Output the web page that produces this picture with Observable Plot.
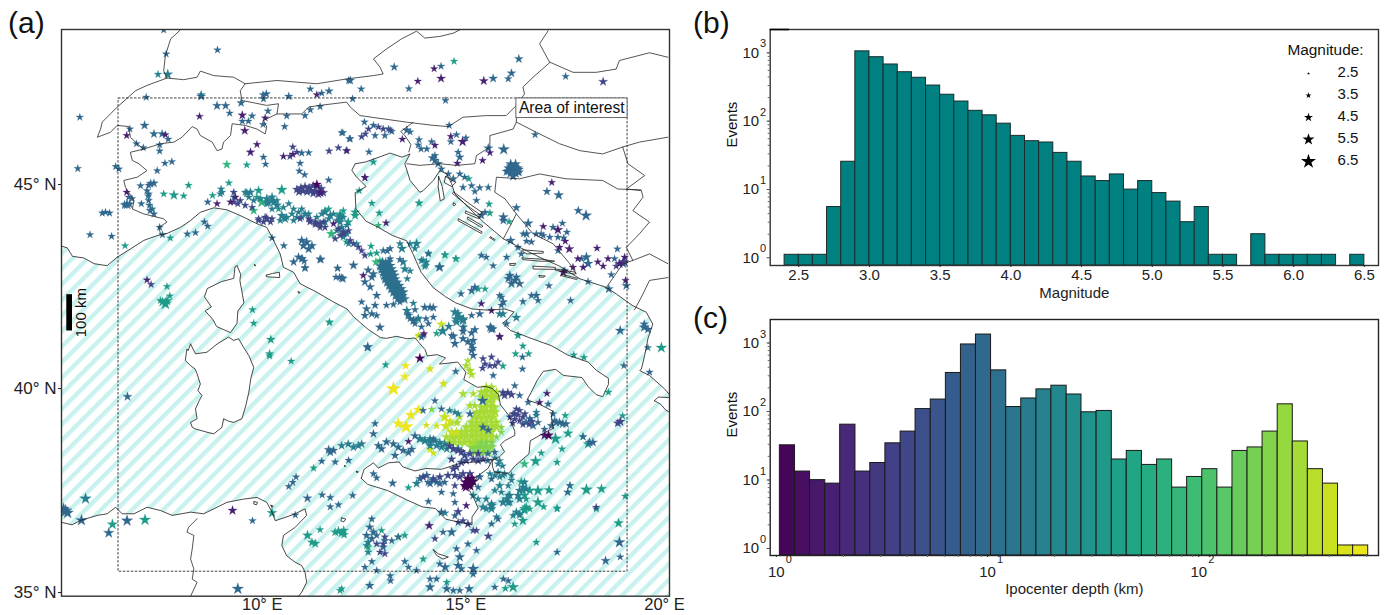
<!DOCTYPE html>
<html><head><meta charset="utf-8">
<script src="https://cdn.jsdelivr.net/npm/d3@7"></script>
<script src="https://cdn.jsdelivr.net/npm/@observablehq/plot@0.6"></script>
<style>
html,body{margin:0;padding:0;background:#fff;}
#page{position:relative;width:1392px;height:615px;overflow:hidden;font-family:"Liberation Sans",Arial,sans-serif;}
#page>svg,#page>div.p{position:absolute;}
.tag{position:absolute;font-size:30px;line-height:30px;color:#111;}
</style></head><body><div id="page"></div>
<script>
// ---------- histogram (b) ----------
const magBins=[2.4,2.5,2.6,2.7,2.8,2.9,3.0,3.1,3.2,3.3,3.4,3.5,3.6,3.7,3.8,3.9,4.0,4.1,4.2,4.3,4.4,4.5,4.6,4.7,4.8,4.9,5.0,5.1,5.2,5.3,5.4,5.5,5.6,5.7,5.8,5.9,6.0,6.1,6.2,6.3,6.4];
const magCounts=[1,1,1,5,23,950,780,610,470,390,300,220,175,128,110,83,55,46,44,31,23,14,12,15,9,12,8,6,3,5,1,1,0,2,1,1,1,1,1,0,1];
const magTicks=[2.5,3,3.5,4,4.5,5,5.5,6,6.5];
// ---------- histogram (c) ----------
const depthEdges=[1,1.18,1.39,1.64,1.93,2.28,2.68,3.16,3.73,4.39,5.18,6.11,7.2,8.48,10,11.8,13.9,16.4,19.3,22.8,26.8,31.6,37.3,43.9,51.8,61.1,72,84.8,100,117.9,139,163.8,193,227.6,268.3,316.2,372.8,439.4,518,610.5];
const depthCounts=[29,12,9,8,58,12,16,31,46,98,135,330,860,1200,360,105,140,190,215,160,88,92,18,24,15,18,7,10,13,7,24,27,46,115,33,13,8,1,1];
const decades=[1,10,100,1000];
const minorY=[2,3,4,5,6,7,8,9,20,30,40,50,60,70,80,90,200,300,400,500,600,700,800,900];
const minorX=[2,3,4,5,6,7,8,9,20,30,40,50,60,70,80,90,200,300,400,500,600];
const legendMags=[2.5,3.5,4.5,5.5,6.5];
// ---------- coast lines and borders (lon, lat) ----------
const coastWest=[[5.07,43.49],[5.21,43.45],[5.34,43.24],[5.62,43.20],[5.87,43.06],[6.19,43.01],[6.44,43.22],[6.76,43.42],[7.09,43.63],[7.42,43.75],[7.66,43.80],[7.99,43.95],[8.24,44.12],[8.48,44.32],[8.81,44.43],[9.13,44.38],[9.46,44.24],[9.87,44.04],[10.11,43.95],[10.24,43.71],[10.44,43.30],[10.52,42.97],[10.77,42.85],[10.93,42.57],[11.34,42.36],[11.75,42.12],[12.08,41.95]];
const coastItaly=[[12.25,41.75],[12.6,41.45],[12.9,41.25],[13.05,41.23],[13.3,41.28],[13.55,41.22],[13.75,41.24],[14.0,40.95],[14.05,40.8],[14.3,40.83],[14.5,40.75],[14.35,40.6],[14.55,40.62],[14.8,40.65],[15.0,40.4],[14.95,40.22],[15.28,40.03],[15.5,40.05],[15.65,40.0],[15.8,39.85],[15.85,39.6],[16.05,39.35],[16.2,38.95],[16.2,38.85],[15.95,38.72],[15.85,38.62],[15.95,38.45],[15.8,38.3],[15.65,38.25],[15.65,38.1],[15.7,37.95],[16.05,37.92],[16.2,38.1],[16.55,38.4],[16.58,38.72],[16.9,38.9],[17.15,39.03],[17.1,39.3],[17.13,39.45],[16.8,39.62],[16.5,39.72],[16.6,39.9],[16.75,40.2],[16.9,40.42],[17.2,40.47],[17.4,40.32],[17.85,40.27],[18.0,40.05],[18.2,39.85],[18.36,39.8],[18.5,40.1],[18.5,40.25],[18.2,40.45],[18.0,40.65],[17.5,40.82],[17.1,41.05],[16.6,41.23],[16.1,41.42],[15.9,41.6],[16.05,41.72],[16.18,41.88],[15.95,41.95],[15.55,41.92],[15.15,41.95],[14.75,42.1],[14.5,42.25],[14.2,42.47],[13.9,42.85],[13.7,43.3],[13.55,43.62],[13.2,43.75],[12.85,43.95],[12.55,44.1],[12.3,44.4],[12.28,44.8],[12.55,44.95],[12.3,45.2],[12.2,45.35],[12.28,45.51],[12.53,45.55]];
const coastBalkan=[[13.14,45.77],[13.43,45.67],[13.63,45.75],[13.50,45.51],[13.63,45.10],[13.87,44.81],[13.95,44.85],[14.20,45.10],[14.36,45.34],[14.53,45.26],[14.65,45.02],[14.73,44.77],[15.06,44.44],[15.43,44.08],[15.92,43.67],[16.32,43.46],[16.81,43.22],[17.30,43.0],[17.80,42.69],[18.45,42.48],[18.69,42.32],[18.97,42.12],[19.10,42.03],[19.43,41.87],[19.59,41.58],[19.47,41.22],[19.39,40.81],[19.31,40.48],[19.27,40.44],[19.51,40.32],[19.88,39.99],[20,39.85]];
const mainlandClose=[[20,48.8],[5.07,48.8]];
const africaCoast=[[5.07,36.72],[5.33,36.66],[5.54,36.77],[5.95,36.89],[6.19,36.93],[6.40,37.09],[6.56,36.93],[6.85,36.93],[7.17,37.09],[7.50,37.01],[7.79,36.89],[8.24,36.97],[8.56,36.93],[8.89,37.09],[9.13,37.21],[9.54,37.29],[9.87,37.33],[10.11,37.21],[10.24,36.97],[10.32,36.76],[10.56,36.84],[10.81,36.93],[11.05,37.05],[11.09,36.89],[10.81,36.60],[10.52,36.40],[10.48,36.15],[10.60,35.90],[10.81,35.74],[10.97,35.66],[11.05,35.50],[11.09,35.25],[10.97,35.01],[10.89,34.91],[5.07,34.91]];
const sardinia=[[8.24,41.09],[8.18,40.93],[8.15,40.97],[8.11,40.69],[8.24,40.56],[8.35,40.48],[8.40,40.36],[8.48,40.11],[8.42,39.95],[8.52,39.83],[8.45,39.7],[8.36,39.50],[8.40,39.26],[8.24,39.17],[8.28,39.05],[8.36,39.01],[8.64,38.93],[8.81,38.89],[9.01,39.05],[9.05,39.26],[9.17,39.2],[9.30,39.17],[9.50,39.26],[9.6,39.6],[9.67,39.91],[9.72,40.25],[9.79,40.52],[9.67,40.81],[9.54,41.01],[9.42,41.22],[9.3,41.18],[9.17,41.26],[8.89,41.09],[8.64,40.89],[8.36,40.85]];
const corsica=[[9.38,43.01],[9.47,42.8],[9.45,42.65],[9.55,42.1],[9.4,41.9],[9.38,41.6],[9.22,41.37],[8.88,41.52],[8.78,41.7],[8.6,41.9],[8.75,42.0],[8.58,42.25],[8.65,42.45],[9.0,42.62],[9.3,42.7],[9.33,42.98]];
const sicily=[[12.43,37.8],[12.5,38.02],[12.73,38.18],[12.85,38.05],[13.1,38.18],[13.36,38.2],[13.45,38.08],[13.75,37.98],[14.02,38.04],[14.4,38.02],[14.9,38.18],[15.24,38.2],[15.35,38.22],[15.65,38.27],[15.55,38.05],[15.29,37.85],[15.2,37.7],[15.09,37.5],[15.2,37.3],[15.3,37.07],[15.15,36.85],[15.15,36.66],[14.85,36.72],[14.5,36.8],[14.25,37.06],[13.93,37.1],[13.55,37.27],[13.08,37.5],[12.59,37.65]];
const isles=[
[[14.33,45.2],[14.42,44.95],[14.47,44.65],[14.37,44.6],[14.32,44.95]],
[[14.5,45.2],[14.75,45.05],[14.65,44.95],[14.47,45.05]],
[[14.7,44.82],[15.1,44.52],[15.42,44.3],[15.35,44.26],[15.05,44.47],[14.67,44.78]],
[[15.0,44.35],[15.35,44.2],[15.3,44.17],[14.98,44.3]],
[[14.82,44.16],[15.4,43.84],[15.38,43.8],[14.8,44.12]],
[[15.05,44.2],[15.42,43.98],[15.38,43.95],[15.03,44.16]],
[[15.6,43.72],[15.72,43.65],[15.7,43.63],[15.58,43.7]],
[[14.7,44.55],[14.75,44.52],[14.72,44.48],[14.68,44.5]],
[[16.4,43.4],[16.9,43.36],[16.9,43.32],[16.5,43.3],[16.4,43.35]],
[[16.38,43.2],[16.85,43.17],[17.18,43.12],[16.85,43.12],[16.4,43.16]],
[[16.65,43.0],[17.2,42.97],[17.18,42.92],[16.65,42.93]],
[[17.2,42.93],[17.7,42.85],[17.68,42.8],[17.2,42.9]],
[[17.35,42.8],[17.75,42.7],[17.72,42.67],[17.33,42.77]],
[[16.08,43.06],[16.22,43.07],[16.2,43.02],[16.08,43.02]],
[[16.8,42.77],[16.95,42.76],[16.92,42.73],[16.8,42.73]],
[[10.1,42.78],[10.25,42.82],[10.42,42.85],[10.43,42.72],[10.25,42.73],[10.1,42.74]],
[[9.81,43.04],[9.84,43.02],[9.82,43.0]],
[[10.88,42.37],[10.93,42.36],[10.9,42.33]],
[[11.95,36.83],[12.05,36.8],[12.0,36.73],[11.93,36.76]],
[[14.2,36.05],[14.32,35.95],[14.57,35.87],[14.44,35.82],[14.28,35.91]],
[[12.31,37.97],[12.36,37.96],[12.33,37.93]],
[[9.8,37.23],[9.88,37.21],[9.86,37.15],[9.79,37.17]],
[[10.21,37.14],[10.27,37.12],[10.24,37.08]],
[[19.63,39.7],[19.72,39.79],[20,39.78],[20,39.42],[19.9,39.48],[19.78,39.62]],
[[12.02,38.11],[12.05,38.1],[12.03,38.08]],
[[14.93,38.5],[14.97,38.48],[14.94,38.45]]
];
const borders=[
[[7.99,48.79],[7.75,48.57],[7.62,48.16],[7.58,47.79],[7.66,47.61],[8.07,47.57],[8.40,47.63],[8.48,47.78],[8.81,47.67],[9.30,47.63],[9.58,47.47],[10.36,47.55],[10.85,47.51],[11.34,47.47],[12.08,47.59],[12.73,47.67],[12.97,47.71],[12.89,47.88],[12.73,48.08],[13.06,48.33],[13.42,48.57],[13.79,48.76],[13.99,48.59],[14.36,48.63],[14.69,48.71],[14.85,48.79]],
[[7.66,47.61],[7.17,47.43],[6.89,47.30],[6.44,46.90],[6.07,46.53],[6.03,46.36],[5.95,46.16],[6.27,46.28],[6.44,46.45],[6.72,46.42],[6.76,46.16],[6.93,46.0],[7.09,45.87],[7.50,46.0],[7.83,46.04],[8.03,46.16],[8.28,46.42],[8.40,46.36],[8.48,46.20],[8.77,46.04],[8.89,45.83],[9.01,45.87],[9.05,46.04],[9.22,46.20],[9.26,46.49],[9.58,46.45],[9.87,46.36],[10.07,46.24],[10.11,46.41],[10.03,46.57],[10.36,46.73],[10.97,46.73],[11.14,46.9],[11.42,46.94],[12.07,47.02],[12.16,46.9],[12.4,46.69],[13.54,46.53],[14.2,46.45],[14.57,46.42],[14.93,46.65],[15.5,46.69],[15.99,46.69],[16.24,46.94],[16.44,47.22],[16.4,47.39],[16.65,47.63],[17.06,47.99],[16.81,48.45],[17.02,48.77]],
[[9.58,47.47],[9.46,47.30],[9.50,47.06],[10.11,46.94],[10.4,46.98],[10.36,46.73]],
[[7.09,45.87],[6.76,45.79],[6.81,45.59],[6.97,45.51],[7.17,45.34],[6.93,45.18],[6.60,45.10],[6.64,44.93],[6.85,44.61],[6.81,44.40],[7.09,44.28],[7.58,44.16],[7.66,44.08],[7.46,43.95],[7.50,43.79]],
[[13.7,46.52],[13.4,46.3],[13.5,46.2],[13.65,45.98],[13.6,45.8]],
[[17.06,48.0],[17.63,47.75],[18.2,47.75],[18.69,47.83],[18.77,48.04],[19.51,48.23],[19.96,48.12]],
[[16.24,46.94],[16.24,46.53],[16.73,46.28],[17.3,46.0],[17.8,45.83],[18.36,45.75],[18.85,45.92],[19.26,46.04],[19.96,46.16]],
[[13.55,45.51],[13.87,45.47],[14.36,45.51],[14.77,45.47],[15.22,45.51],[15.26,45.71],[15.59,45.92],[15.59,46.2],[16.16,46.36],[16.24,46.53]],
[[15.92,43.67],[16.24,44.28],[15.96,44.65],[15.71,44.81],[15.75,45.18],[16.32,45.14],[16.81,45.26],[17.46,45.14],[18.36,45.1],[18.73,44.89],[19.3,44.87]],
[[16.24,44.28],[16.65,43.79],[17.14,43.55],[17.55,43.06],[17.71,42.81]],
[[18.85,45.92],[18.98,45.51],[19.39,45.22],[18.94,44.89],[19.31,44.85],[19.35,44.69],[19.10,44.36],[19.51,44.08],[19.26,43.79],[18.94,43.46],[19.1,43.14],[18.85,43.05],[18.45,42.48]],
[[19.1,43.14],[19.51,43.3],[19.96,43.06]],
[[19.96,42.72],[19.51,42.65],[19.31,42.24],[19.14,41.93]],
[[8.40,36.81],[8.19,36.60],[8.15,36.48],[8.32,36.40],[8.28,36.07],[8.24,35.82],[8.32,35.58],[8.28,35.33],[8.40,35.25],[8.24,34.91]]
];
// ---------- events: [lon, lat, magnitude] grouped by depth class ----------
const defaultMag=3.2;
const depthClasses={dark:1.1,purple:1.8,indigo:4,blue:9,core:11,tealBlue:16,teal:36,seaGreen:75,green:200,lime:300,yellowGreen:420,yellow:600};
const dark=[[15.1,37.7,4.6],[15.0,37.7,4.4],[15.18,37.72,4.2],[15.1,37.62,4.4],[15.05,37.78,4.4],[15.15,37.8,4],[14.97,37.62,4],[15.0,37.58,4],[13.87,40.74,4],[17.03,38.85,4],[11.34,45.0,3.8]];
const purple=[[9.27,37.01,3.8],[8.46,46.67],[9.51,46.7,3.6],[9.57,46.32,3.6],[10.07,46.63],[11.34,47.2],[6.67,46.2],[7.62,46.22],[9.87,45.98],[9.71,45.79,3.6],[10.52,45.69],[10.75,45.74],[12.08,45.83],[6.67,44.81],[9.22,44.57],[9.34,44.69],[8.89,44.53],[11.43,44.8,3.8],[7.17,42.66],[14.22,47.84],[14.39,47.6,3.7],[13.82,47.53],[15.44,47.54,3.7],[13.44,46.11],[14.24,45.96],[14.63,46.18],[14.92,46.05,4],[15.59,45.78],[15.41,45.59],[14.79,45.52],[12.52,45.17],[16.9,43.97],[17.26,43.89,4],[17.44,43.61],[17.3,43.46],[17.54,43.42,3.8],[17.75,43.18],[17.88,42.97],[17.63,42.97],[17.39,42.85,3.8],[18.22,43.44],[18.24,43.1],[18.49,43.18],[18.37,43.0],[18.9,43.22],[18.77,43.06,3.8],[18.92,42.65],[17.11,45.05],[12.48,42.77],[13.04,44.06],[15.38,42.08],[15.63,41.91],[15.83,41.28],[13.97,41.34],[15.83,41.26],[13.59,38.7],[16.81,39.66],[16.99,39.88],[15.01,37.13],[14.1,36.64,3.7],[11.75,44.04],[16.93,38.85,3.8],[12.52,45.17]];
const indigo=[[18.37,47.52,3.7],[10.85,44.88,3.6],[10.95,44.92,3.6],[11.05,44.95,3.6],[11.15,44.92,3.6],[11.25,44.97,3.6],[11.35,44.95,3.6],[11.45,44.9,3.6],[10.9,44.82,3.6],[11.0,44.84,3.6],[11.1,44.82,3.6],[11.2,44.85,3.6],[11.3,44.84,3.6],[11.4,44.82,3.6],[11.5,44.8,3.6],[11.25,44.78,3.6],[11.38,44.76,3.6],[10.11,44.16,4],[9.91,44.16],[10.24,44.16],[10.03,44.08],[11.14,44.16],[11.3,44.08,3.6],[11.42,44.04,3.6],[11.17,44.08],[11.34,44.04],[11.5,44.08],[11.87,43.91],[11.99,43.83,3.6],[12.12,43.87],[9.3,44.81],[9.4,44.53],[9.46,44.61],[9.3,44.57],[9.58,44.49],[9.75,44.44],[10.68,45.69],[10.85,45.79],[10.75,45.92],[11.87,45.9],[11.64,45.82],[7.27,42.55],[12.44,46.17],[12.53,46.24],[12.61,46.36],[12.85,46.41],[13.14,46.33],[12.97,46.36],[11.79,43.67],[11.91,43.75],[11.99,43.79],[12.24,43.55],[12.36,43.47],[12.44,43.38],[12.52,43.26],[12.16,43.63],[15.91,39.9,3.6],[16.03,39.9,3.6],[16.12,39.85,3.6],[15.95,39.83,3.6],[14.6,38.6,3.6],[14.69,38.52,3.6],[14.81,38.48,3.6],[14.89,38.44,3.6],[14.97,38.36,3.6],[15.1,38.4,3.6],[15.18,38.27,3.6],[14.65,38.27,3.6],[14.77,38.07,3.6],[14.89,38.19,3.6],[15.01,38.23,3.6],[15.3,38.23,3.6],[15.42,38.27,3.6],[15.3,38.4,3.6],[14.69,38.03,3.6],[14.73,37.87,3.6],[14.85,37.83,3.6],[14.93,37.91,3.6],[15.1,37.91,3.6],[14.36,37.83,3.6],[14.2,37.79,3.6],[13.95,37.83,3.6],[14.56,37.87,3.6],[14.73,37.62],[14.81,36.98,3.7],[15.05,36.68,3.6],[14.93,36.76],[14.81,36.72],[18.79,39.19,4],[18.73,39.15,3.7],[18.9,43.1,3.6],[18.86,43.1,3.6],[18.69,43.0],[14.24,36.32],[15.18,36.52],[15.26,36.52],[15.55,36.38,3.7],[12.81,36.19],[12.97,36.19],[13.01,36.36],[12.89,35.99],[13.01,35.95],[18.2,37.09],[15.63,40.77],[15.42,40.73],[15.47,40.6],[15.59,40.56],[15.71,40.56],[15.79,40.65],[15.41,40.5],[16.2,39.38],[16.24,39.5],[16.16,39.38],[16.32,39.46],[16.4,39.3],[16.32,39.21],[16.08,39.3],[16.2,39.25],[16.28,39.35],[16.4,39.12],[16.55,39.12],[16.62,39.2],[16.45,39.38],[16.15,39.15],[11.18,44.12],[11.3,44.02],[11.42,43.95],[11.54,43.95],[10.93,44.16],[10.07,44.2],[10.2,44.08],[9.91,44.12]];
const blue=[[7.58,48.79],[7.64,48.2],[8.9,48.3],[8.5,47.16,3.7],[7.15,47.14],[5.52,46.65],[8.89,46.93,3.7],[9.1,46.93,3.6],[9.2,46.75],[9.48,47.0,3.5],[9.51,46.55],[9.66,46.55],[9.75,46.68],[10.14,46.8],[10.02,46.47],[10.6,46.68],[10.55,46.42],[11.05,46.69],[11.18,46.83],[11.42,46.91],[11.18,47.34],[11.46,47.24],[11.64,47.29,3.5],[10.02,47.2],[10.1,47.22,3.5],[10.03,47.1],[10.65,47.16,3.5],[12.12,47.55],[6.75,46.36],[7.11,46.45,3.7],[7.34,46.24,3.6],[7.54,46.24,3.5],[7.69,46.11],[6.91,46.0],[7.08,45.9],[7.48,45.97],[7.48,45.82],[7.61,45.52],[7.78,45.56],[7.42,45.34],[5.47,45.39],[6.4,45.44],[6.48,45.38],[7.01,44.97],[7.21,44.98],[7.34,45.03,3.6],[7.26,45.02,3.6],[7.17,44.85],[7.21,44.77],[6.72,44.69],[6.68,44.51,4.2],[6.62,44.5,3.6],[6.74,44.52,3.6],[6.8,44.65],[7.03,44.53],[7.21,44.61],[7.23,44.49],[7.25,44.36,3.5],[7.34,44.28],[6.07,44.3],[6.15,44.32],[6.25,44.3],[5.77,43.77],[6.3,43.73],[7.48,43.95],[7.55,43.77],[8.16,43.79],[8.36,43.82],[8.58,44.08],[8.66,43.98],[10.08,45.5],[10.03,45.67],[10.97,45.77],[11.14,45.78],[10.93,45.52],[10.91,45.33],[11.04,45.24],[11.63,45.11],[11.98,46.27],[12.14,46.12],[8.66,44.57],[11.09,43.59,4],[10.97,43.63,3.8],[11.22,43.5,3.8],[11.14,43.42,3.8],[11.01,43.5,3.8],[10.89,43.22,3.6],[10.97,43.18,3.6],[10.77,43.1,3.6],[11.03,43.12],[11.42,43.17,3.6],[11.05,42.96],[11.85,42.95],[11.9,42.73],[11.98,42.69,3.6],[10.24,43.69],[10.53,43.5],[6.69,39.8,3.7],[5.17,37.0,5],[5.12,37.05,4.6],[5.22,36.95,4.6],[5.56,36.77,4.5],[6.23,36.46,4.2],[6.68,36.76,4.5],[9.76,36.76],[10.81,36.9],[9.4,35.09,4.6],[11.63,38.5,3.7],[11.67,38.44,3.7],[11.75,38.48,3.6],[11.46,38.22],[11.79,38.2],[10.83,37.83],[10.75,37.7],[10.65,37.6],[11.11,37.31,3.7],[11.47,37.39],[11.67,37.33],[11.67,37.1],[11.87,37.15],
[13.24,47.88,3.5],[14.39,47.9],[13.6,47.35],[12.16,47.55,3.6],[12.43,47.34],[12.22,47.1],[14.5,47.06],[15.67,47.6,3.7],[16.04,47.59],[16.12,47.73,3.6],[16.3,48.08,3.6],[17.45,47.65],[16.7,46.22],[14.59,46.45],[12.51,46.53],[12.73,46.45],[13.1,46.36],[13.18,46.3],[12.77,46.2],[13.01,46.2],[13.55,46.33,3.6],[13.63,46.29],[13.85,46.1],[13.83,45.97],[13.9,45.87],[14.04,45.87],[14.16,46.05],[14.77,46.22],[14.63,46.05],[15.0,46.14],[15.55,45.89,3.8],[15.93,45.86,4.5],[16.16,45.38,4.2],[16.05,45.4,4],[16.27,45.4,4],[16.1,45.5,4],[16.22,45.5,4],[16.1,45.28,4],[16.22,45.28,4],[16.0,45.32,3.8],[16.3,45.3,3.8],[16.16,45.2,3.8],[16.1,45.45,3.8],[16.2,45.43,3.8],[16.05,45.33,3.8],[16.25,45.33,3.8],[16.15,45.3,3.8],[16.3,45.37,3.8],[14.24,45.71],[14.24,45.59,3.6],[14.32,45.51,3.6],[14.18,45.65,3.6],[14.81,45.79],[14.85,45.67,3.5],[14.4,45.38],[14.57,45.26],[14.69,45.14,3.6],[14.85,45.26],[14.97,45.18],[15.14,44.97],[14.93,44.93],[15.34,44.92],[15.22,44.83],[15.55,44.93],[15.26,44.61],[11.95,46.27],[12.16,46.12],[12.06,45.83],[12.62,45.8],[15.47,44.32],[15.38,44.24,3.6],[15.92,44.2,3.9],[15.92,44.12,3.6],[16.24,44.43,3.6],[16.53,44.05,4],[16.41,43.79],[16.49,43.79,3.7],[17.14,43.95],[17.37,44.05],[17.48,43.83],[16.73,43.79],[16.9,43.75],[16.61,43.59],[17.06,43.71],[17.26,43.71],[17.4,43.69],[17.26,43.38],[16.1,43.63,3.8],[16.49,43.61],[16.28,43.46],[16.85,43.79],[16.36,43.3],[17.76,44.36,3.6],[17.95,44.24,4.5],[16.99,44.83,3.5],[17.28,44.74,4],[17.84,43.18],[17.96,43.22,4],[18.0,43.06,4],[17.43,42.89],[18.72,43.42],[18.65,43.18],[18.86,43.06,3.8],[18.57,42.79],[18.51,42.44,3.7],[18.94,42.52,3.7],[18.0,42.62],
[15.38,43.26],[15.5,43.22],[16.0,43.22],[15.67,43.01],[14.35,42.97,4],[14.08,43.3],[15.22,42.48,3.6],[15.14,42.4,3.6],[14.88,42.32],[16.08,42.77,3.8],[16.2,42.65,3.8],[16.12,42.57,3.8],[16.32,42.57,3.8],[16.24,42.73,3.6],[16.04,42.69,3.6],[16.73,42.28,3.6],[16.61,42.28],[16.77,42.16],[17.04,42.52],[17.57,42.16],[16.4,42.13],[15.83,42.28],[15.92,42.12,3.6],
[12.6,42.9,3.6],[12.69,42.73,3.6],[12.52,42.61,3.6],[12.65,42.49,3.6],[12.73,42.81,3.6],[12.81,42.28,3.6],[11.85,42.95],[12.24,43.02,3.8],[11.44,43.16,3.5],[11.81,42.73],[11.95,42.71,3.6],[11.05,42.95,3.5],[10.99,43.18],[13.14,43.43],[12.97,43.38],[13.07,43.37],[13.14,43.18],[13.38,43.16],
[12.44,42.12],[12.56,41.95,3.6],[12.77,42.04,3.5],[12.69,41.83,3.5],[12.52,41.79,3.5],[12.81,41.79],[13.05,42.04],[13.22,42.06],[13.38,42.12],[12.89,41.5,3.7],[12.59,41.02,4],[13.75,41.93],[13.58,41.83],[13.63,41.71],[13.71,41.67],[13.99,41.99,3.6],[14.12,41.99,3.6],[14.2,41.98,3.6],[13.75,41.59],[13.91,41.51],[14.2,41.75],[14.08,41.59],[14.02,41.71],[13.91,41.26],[15.14,41.79],[15.34,41.83,3.6],[15.87,42.24],[15.87,42.04],[16.0,41.59],[15.6,41.5,4],[15.67,41.46],[14.65,41.3],[14.73,41.1,3.8],[14.93,41.22,3.7],[15.18,41.18,3.6],[15.14,40.93,3.6],[15.18,40.81,3.6],[15.63,41.46,4],[18.79,41.42,4],[19.38,41.5,4],[19.47,41.45,3.6],[19.38,41.58,3.6],[18.88,40.56],[19.51,40.4],[16.39,40.77],[16.39,40.48],[15.67,40.32],[14.75,40.42],[14.69,41.28,3.8],[14.93,41.4,3.6],[15.14,41.36,3.6],[15.22,41.44,3.6],[15.05,41.15,3.6],[15.14,41.07,3.6],[15.18,40.99],[14.93,41.5],[13.95,41.3],[12.58,41.0],
[15.41,39.7,4.2],[15.1,39.38,3.6],[15.42,39.05,3.6],[15.55,38.98,3.5],[15.71,38.44],[15.54,38.4],[15.54,38.23],[15.63,37.78],[15.3,37.58],[15.34,37.83],[14.07,37.7],[14.28,37.7],[14.48,37.7],[13.87,37.79,3.6],[14.04,37.87,3.6],[14.2,37.75,3.6],[14.36,37.67,3.6],[14.12,37.67,3.6],[13.2,37.68,3.6],[12.73,37.91],[12.81,37.81],[12.22,37.38],[12.12,38.24],[14.4,37.46],[14.08,37.23],[14.4,36.97,3.6],[14.69,37.42],[14.73,37.21],[14.73,36.88],[14.44,36.48],[14.65,36.48,4],[15.63,36.68],[15.79,36.8],[17.24,35.99],[18.77,36.23,4.5],[18.79,35.87],[18.43,35.78,3.8],[17.55,37.62],[17.5,37.46],[14.36,35.7],[14.49,35.62,4],[14.85,35.87,4],[14.81,35.66,4],[14.89,35.58],[14.77,36.07],[15.26,36.03],[15.05,36.19],[15.18,35.58,4.5],[15.18,35.45],[14.12,35.13,4],[14.28,35.33],[14.12,35.33],[14.53,35.09,3.8],[14.69,35.05],[14.85,35.05],[15.08,35.09,3.8],[15.71,35.13],[15.92,35.33],[16.04,35.29],[12.69,35.76],[12.52,35.62],[12.81,35.54],[12.64,35.17,3.7],[13.14,35.41],[13.15,35.29],[13.5,35.76],[13.59,35.62],[13.79,35.54],[12.69,36.8],[12.64,36.6,3.6],[12.73,36.48,3.6],[12.56,36.4,3.6],[12.69,36.32,3.6],[12.81,36.4],[12.97,36.11,3.6],[13.01,36.27],[13.18,36.27],[13.34,36.36],
[12.77,39.14],[12.73,38.89,3.6],[12.85,38.6,3.6],[12.93,38.52,3.6],[13.05,38.69,3.6],[13.22,38.64,3.6],[13.34,38.56,3.6],[13.46,38.48,3.6],[13.59,38.43,3.6],[13.67,38.51,3.6],[13.26,38.36,3.6],[13.75,38.84,3.6],[14.2,38.76],[13.95,39.46],[14.4,39.5],[14.24,39.7],[17.14,39.38],[17.18,39.21],[17.1,39.09,3.6],[17.3,39.17,3.6],[17.46,39.13,3.6],[17.22,39.17,3.6],[17.38,39.13,3.6],[16.57,39.26,3.6],[16.48,39.17,3.6],[16.65,39.09,3.6],[16.77,39.17],[16.2,40.07],[16.53,39.66],[17.02,39.62],[18.04,38.68,3.7],[18.12,38.68,3.7],[17.88,38.82],[16.93,39.0],[16.32,39.83]];
const core=[[12.95,43.1,4.1],[13.03,43.08,4.1],[13.1,43.1,4.1],[12.9,43.0,4.1],[12.98,43.02,4.1],[13.06,42.99,4.1],[13.14,43.01,4.1],[12.93,42.92,4.1],[13.01,42.93,4.1],[13.09,42.91,4.1],[13.17,42.93,4.1],[12.97,42.84,4.1],[13.05,42.85,4.1],[13.13,42.83,4.1],[13.21,42.85,4.1],[13.0,42.76,4.1],[13.08,42.77,4.1],[13.16,42.75,4.1],[13.24,42.77,4.1],[13.02,42.68,4.1],[13.1,42.69,4.1],[13.18,42.67,4.1],[13.26,42.68,4.1],[13.07,42.6,4.1],[13.15,42.61,4.1],[13.23,42.59,4.1],[13.31,42.6,4.1],[13.12,42.52,4.1],[13.2,42.53,4.1],[13.28,42.51,4.1],[13.36,42.52,4.1],[13.17,42.44,4.1],[13.25,42.45,4.1],[13.33,42.43,4.1],[13.41,42.44,4.1],[13.22,42.36,4.1],[13.3,42.37,4.1],[13.38,42.35,4.1],[13.46,42.36,4.1],[13.28,42.28,4.1],[13.36,42.29,4.1],[13.44,42.27,4.1],[13.33,42.2,4.1],[13.41,42.21,4.1],[13.49,42.19,4.1]];
const tealBlue=[[7.44,47.7],[7.68,47.7,4],[8.5,47.2,3.5],[8.99,44.89],[9.01,44.81],[8.97,44.77],[7.2,44.72],[7.3,44.4],[9.62,44.79,3.7],[9.71,44.81,3.7],[10.48,44.24,3.8],[10.56,44.16,3.8],[10.73,44.28],[10.85,44.2],[10.97,44.4],[11.05,44.28,3.6],[11.54,44.08,3.6],[11.54,44.32,3.7],[11.67,44.24,3.7],[11.91,44.2,4],[11.91,44.08,3.6],[10.11,44.65,3.8],[10.28,44.57,3.8],[10.36,44.49,3.8],[10.24,44.69,3.8],[10.15,44.55,3.6],[9.95,44.65],[5.66,37.3,4.5],[5.05,37.03,4.5],[13.43,43.43,4],[13.38,43.55],[13.79,43.55,4],[13.75,43.43],[13.63,43.55],[13.99,42.99],[13.91,43.14,3.5],[14.03,43.1],[13.5,42.93,3.8],[13.46,43.1,3.7],[13.56,42.69],[13.63,42.88],[14.36,42.98,3.7],[14.73,41.87,4],[14.93,41.67,4],[14.84,41.75,4],[14.77,41.63,4],[13.59,41.79,3.8],[13.71,41.66,3.8],[13.55,41.91,3.8],[13.83,41.7,3.8],[14.8,41.83,4],[14.93,41.7,4],[14.76,41.7,4],[13.71,42.09],[13.83,41.73],[14.58,41.52,3.7],[14.43,41.41,4.5],[15.91,41.83,3.6],[15.83,41.83,3.6],[16.24,41.74,3.8],[19.47,41.0],
[9.3,44.69],[9.58,44.81],[9.67,44.69],[9.79,44.61],[10.11,44.53],[10.24,44.4],[10.36,44.61],[10.52,44.44],[10.65,44.53],[10.77,44.4],[10.89,44.32],[10.97,44.2],[10.6,44.2],[10.44,44.12],[10.77,44.12],[11.14,44.28],[11.34,44.2],[11.46,44.28],[11.63,44.16],[11.75,44.28],[11.83,44.12],[11.99,44.2],[12.08,44.0],[11.95,43.95],[11.83,43.87],[12.08,43.79],[11.99,43.71],[12.12,43.55],
[11.95,38.6,3.6],[12.11,38.64,3.6],[12.24,38.56,3.6],[12.36,38.6,3.6],[12.44,38.64,3.6],[13.87,38.77,3.6],[13.99,38.72,3.6],[14.12,38.77,3.6],[14.24,38.72,3.6],[14.36,38.68,3.6],[14.48,38.64,3.6],[14.12,38.6,3.6],[13.87,38.76,3.6],[14.0,38.72,3.6],[14.12,38.68,3.6],[14.28,38.6,3.6],[14.4,38.56,3.6],[14.53,38.52,3.6],[14.69,38.52,3.6],[14.81,38.52,3.6],[15.83,38.23],[15.79,38.15],[15.71,38.3],[15.9,38.1],[13.79,37.67,3.7],[16.73,39.42],[16.73,39.34],[14.81,39.38],[14.73,39.42],[14.6,39.46],[12.6,36.23],[12.6,35.99],[12.56,36.15],[16.44,37.7],[16.4,37.58,3.7],[16.48,37.54,3.7],[16.32,37.5,3.7],[16.28,37.38,3.7],[16.08,37.38,3.7],[16.0,37.29,3.7],[15.91,37.21,3.9],[16.04,37.21,3.7],[16.32,37.29,3.7],[15.63,37.17,3.7],[15.63,37.05,3.7],[15.5,37.29],[15.3,37.29],[15.42,37.09,3.7],[15.63,37.13,4],[15.5,37.05],[15.92,37.21],[16.08,37.21],[16.04,37.38],[15.18,37.38,3.6],[14.49,36.95],[15.34,37.83],[15.59,37.91],[15.71,37.87],[15.83,37.83],[15.95,37.91],[16.12,37.87],[15.79,37.95],[15.91,37.87],[16.12,37.75],[16.04,37.62],[15.83,37.62,3.6],[15.87,37.46],[15.71,37.5],[16.16,36.89],[16.32,36.93],[16.24,36.97,3.6],[16.32,36.89],[15.75,36.85]];
const teal=[[6.63,43.5],[7.74,43.69],[7.58,44.77],[7.83,44.74,4],[8.07,44.72],[8.19,44.98],[9.18,45.04],[8.78,44.73],[9.62,45.48],[9.91,44.85,3.8],[10.48,44.87,4.3],[7.66,42.5],[7.5,42.16],[7.73,42.27],[7.62,42.08,4.8],[7.55,42.12,4],[7.66,42.15,4],[9.76,41.93],[9.79,41.6],[11.65,41.62],[10.21,41.2,3.7],[10.18,40.85,3.6],[10.18,40.8],[10.71,40.67],[7.12,36.78,4.5],[6.32,36.67,4.2],[10.24,36.95,4],[11.95,35.09],[11.26,38.05],[11.11,36.4,4],[11.42,36.54],[11.22,36.23,3.7],[11.3,36.2,3.7],[11.79,36.48,3.6],[11.87,36.5,4],[11.95,36.46,3.8],[12.01,36.42,3.6],[14.71,48.02],[12.38,44.85],[12.69,44.54],[13.85,44.55],[12.87,44.3],[12.73,45.55],[15.07,45.14],[15.57,44.52],[15.59,44.3],[16.06,44.09],[14.49,43.27],[14.76,43.18],[14.02,43.02],[13.95,43.15],[15.3,42.44],[15.47,42.44],[12.67,43.49],[12.66,43.3],[12.81,43.32],[13.85,44.54],[11.91,44.24,4.2],[12.11,44.08,3.8],[12.03,43.83],[11.91,43.92],[12.07,43.59],[12.32,43.55],[12.28,44.32,3.8],[12.28,44.24,3.8],[14.08,43.32],[14.48,43.28],[14.75,43.18],[11.65,41.63],[13.03,40.58],[14.95,41.51],[16.28,41.3],[16.28,41.3],[16.22,40.85],[16.4,41.04],[16.54,40.85],[17.65,40.82],[17.9,40.76],[18.5,39.91],[18.85,39.33],[19.8,41.0,4.3],[14.28,41.35],[15.91,40.55],[13.59,37.57],[16.57,37.5,4],[16.48,37.29],[16.44,37.01,3.8],[16.48,37.09,3.8],[16.36,37.71,3.8],[16.44,37.71],[16.4,37.5,3.8],[16.44,37.38,3.6],[16.2,36.68],[16.4,36.76,4],[16.44,37.05,4],[16.57,37.05],[16.77,37.21,4.5],[16.91,37.1],[17.24,37.05],[16.73,36.23],[18.2,37.05],[18.75,36.7,4],[18.91,37.36],[17.2,38.77,4.8],[17.51,38.9,4],[17.87,38.82],[18.0,38.64,4],[17.36,38.52],[16.85,38.42],[17.24,38.19],[16.71,38.22,4.5],[17.04,37.51,4],[16.77,37.5,4.5],[17.96,37.52,4.7],[17.56,37.62],[17.5,37.46],[17.24,37.07],[17.44,39.34],[18.33,37.54,4],[12.6,36.23],[12.93,36.52],[13.5,36.4],[13.95,35.82],[14.53,35.25],[15.97,35.1],[16.16,35.13,4.5],[12.0,36.52,3.8],[11.91,35.05],[9.87,44.69],[10.24,44.61],[10.4,44.4],[11.54,44.36],[11.91,44.28],[11.99,44.36],[11.63,44.4]];
const seaGreen=[[9.13,45.49,3.7],[9.99,44.57,4.5],[9.79,44.36,3.7],[11.69,43.79,3.8],[11.71,43.79,3.7],[12.85,44.0],[12.79,43.1,3.6],[12.89,43.14],[13.34,36.36],[16.44,38.15,3.8],[12.6,36.11,3.6]];
const green=[[15.26,38.68,4.1],[15.38,38.68,4.1],[15.5,38.68,4.1],[15.63,38.68,4.1],[15.14,38.56,4.1],[15.26,38.56,4.1],[15.38,38.56,4.1],[15.5,38.56,4.1],[15.63,38.56,4.1],[15.2,38.44,4.1],[15.32,38.44,4.1],[15.44,38.44,4.1],[15.56,38.44,4.1],[14.16,39.49],[13.34,36.36],[15.75,38.81],[15.87,39.05],[15.87,38.93]];
const lime=[[15.5,40.03,4.1],[15.63,40.03,4.1],[15.38,39.91,4.1],[15.5,39.91,4.1],[15.63,39.91,4.1],[15.75,39.91,4.1],[15.38,39.79,4.1],[15.5,39.79,4.1],[15.63,39.79,4.1],[15.75,39.79,4.1],[15.5,39.66,4.1],[15.63,39.66,4.1],[15.38,39.54,4.1],[15.5,39.54,4.1],[15.63,39.54,4.1],[15.7,39.54,4.1],[15.26,39.42,4.1],[15.38,39.42,4.1],[15.5,39.42,4.1],[15.63,39.42,4.1],[15.72,39.42,4.1],[15.2,39.3,4.1],[15.32,39.3,4.1],[15.44,39.3,4.1],[15.56,39.3,4.1],[15.68,39.3,4.1],[15.14,39.17,4.1],[15.26,39.17,4.1],[15.38,39.17,4.1],[15.5,39.17,4.1],[15.63,39.17,4.1],[15.75,39.17,4.1],[15.01,39.05,4.1],[15.14,39.05,4.1],[15.26,39.05,4.1],[15.38,39.05,4.1],[15.5,39.05,4.1],[15.63,39.05,4.1],[15.75,39.05,4.1],[14.65,38.93,4.1],[14.77,38.93,4.1],[14.89,38.93,4.1],[15.01,38.93,4.1],[15.14,38.93,4.1],[15.26,38.93,4.1],[15.38,38.93,4.1],[15.5,38.93,4.1],[15.63,38.93,4.1],[14.52,38.81,4.1],[14.65,38.81,4.1],[14.77,38.81,4.1],[14.89,38.81,4.1],[15.01,38.81,4.1],[15.14,38.81,4.1],[15.26,38.81,4.1],[15.38,38.81,4.1],[15.5,38.81,4.1],[15.63,38.81,4.1],[14.6,38.68,4.1],[14.72,38.68,4.1],[14.85,38.68,4.1],[14.97,38.68,4.1],[15.1,38.68,4.1],[15.2,38.68,4.1],[14.93,39.87,3.7],[15.18,39.87,3.5],[15.22,39.58,3.5],[15.1,39.58,3.7],[14.85,39.3],[14.8,39.17],[15.05,40.68],[15.01,40.56,3.8],[15.1,40.44,4],[15.14,40.34,3.7],[14.65,39.15],[14.77,39.15]];
const yellowGreen=[[14.4,41.57,4],[13.85,41.3],[13.83,41.29],[14.12,40.48,3.5],[14.45,40.12,3.7],[14.03,39.1],[14.28,39.08],[14.61,39.2,3.6],[14.65,38.92,3.5],[14.77,38.92,3.5],[14.51,39.08,4.6],[14.48,39.3,4.5],[14.12,38.51,3.6],[14.2,38.42]];
const yellow=[[13.22,39.99,5.6],[13.52,40.56,3.8],[13.5,40.29,3.8],[13.65,39.35,4.6],[13.83,39.48,4],[13.34,39.14,4.6],[13.53,39.06,5.6]];
const starGroups={green,lime,yellowGreen,yellow,seaGreen,teal,tealBlue,core,blue,indigo,purple,dark};
const events=Object.entries(starGroups).flatMap(([name,rows])=>rows.map(r=>({lon:r[0],lat:r[1],mag:r[2]??defaultMag,depth:depthClasses[name]})));
// ---------- annotations ----------
const lonTicks=[10,15], lonEnd=[20], latTicks=[35,40,45];
const areaOfInterest=[{w:6.47,e:18.97,s:35.51,n:47.11}];
const areaLabelBox=[{w:16.24,e:18.97,s:46.63,n:47.11}];
const scaleBar=[{w:5.2,e:5.34,s:41.41,n:42.3}];

const page=document.getElementById("page");
const F='"Liberation Sans",Arial,sans-serif';
const rScale={type:"linear",domain:[2.5,6.5],range:[0.95,4.7]};
const rMapScale={type:"linear",domain:[2.5,6.5],range:[1.8,5.4]};
const colorScale={type:"log",scheme:"viridis",domain:[1,700]};
const poly=rs=>({type:"Polygon",coordinates:[[...rs,rs[0]]]});
const mainland=[...coastWest,...coastItaly,...coastBalkan,...mainlandClose];
const lands=[mainland,africaCoast,sardinia,corsica,sicily,...isles].map(poly);
const coastStroke=[[...coastWest,...coastItaly,...coastBalkan],africaCoast.slice(0,-1),[...sardinia,sardinia[0]],[...corsica,corsica[0]],[...sicily,sicily[0]],...isles.map(r=>[...r,r[0]])];
const coastGeo={type:"MultiLineString",coordinates:coastStroke};
const borderGeo={type:"MultiLineString",coordinates:borders};
const noLabel=()=>"";

const map=Plot.plot({
  width:700,height:615,marginLeft:61,marginRight:31,marginTop:29,marginBottom:19.3,
  style:{fontFamily:F,fontSize:"17px",color:"#222",background:"transparent"},
  x:{type:"linear",domain:[5.07,20]},y:{type:"linear",domain:[34.91,48.8]},
  r:rMapScale,color:colorScale,
  marks:[
    Plot.frame({fill:"url(#hatch)",stroke:"none"}),
    Plot.geo(lands,{fill:"white",stroke:"none"}),
    Plot.dot(events,{x:"lon",y:"lat",r:"mag",fill:"depth",symbol:"star",stroke:"depth",strokeWidth:0.8,strokeOpacity:0.3,clip:"frame",sort:null}),
    Plot.geo([coastGeo],{fill:"none",stroke:"#1c1c1c",strokeWidth:0.8}),
    Plot.geo([borderGeo],{fill:"none",stroke:"#2a2a2a",strokeWidth:0.8}),
    Plot.rect(areaOfInterest,{x1:"w",x2:"e",y1:"s",y2:"n",fill:"none",stroke:"#111",strokeWidth:0.8,strokeDasharray:"2.5,1.5"}),
    Plot.rect(areaLabelBox,{x1:"w",x2:"e",y1:"s",y2:"n",fill:"white",stroke:"#666",strokeWidth:1}),
    Plot.text(["Area of interest"],{x:()=>17.6,y:()=>46.87,fontSize:15.6,fill:"#111"}),
    Plot.rect(scaleBar,{x1:"w",x2:"e",y1:"s",y2:"n",fill:"black"}),
    Plot.text(["100 km"],{x:()=>5.56,y:()=>41.86,rotate:-90,fontSize:15,fill:"#111"}),
    Plot.frame({stroke:"#333",strokeWidth:1.4}),
    Plot.axisX(lonTicks,{anchor:"bottom",label:null,tickSize:2,tickPadding:0,fontSize:16.5,tickFormat:d=>`${d}° E`}),
    Plot.axisX(lonEnd,{anchor:"bottom",label:null,tickSize:0,tickPadding:2,dx:-5,fontSize:16.5,tickFormat:d=>`${d}° E`}),
    Plot.axisY(latTicks,{anchor:"left",label:null,tickSize:3,tickPadding:2,fontSize:17,tickFormat:d=>`${d}° N`})
  ]
});
map.style.left="0px";map.style.top="0px";
map.insertAdjacentHTML("afterbegin",'<defs><pattern id="hatch" patternUnits="userSpaceOnUse" width="11" height="11" patternTransform="rotate(45)"><rect width="11" height="11" fill="#fff"/><rect x="0" y="0" width="4.4" height="11" fill="#c9f1ee"/></pattern></defs>');
page.append(map);

function logAxes(){return [
  Plot.axisY(decades,{anchor:"left",label:null,tickSize:3,tickPadding:8,fontSize:15,dy:3,tickFormat:()=>"10",stroke:"#444"}),
  Plot.axisY(decades,{anchor:"left",label:null,tickSize:0,tickPadding:4,fontSize:11,dy:-6,tickFormat:d=>String(Math.round(Math.log10(d)))}),
  Plot.axisY(minorY,{anchor:"left",label:null,tickSize:2,tickFormat:noLabel,stroke:"#666"})
];}
const magRows=magBins.map((b,i)=>({lo:b,hi:b+0.1,n:magCounts[i]})).filter(d=>d.n>0);
const histB=Plot.plot({
  width:692,height:310,marginLeft:69.7,marginRight:14,marginTop:29,marginBottom:45,
  style:{fontFamily:F,fontSize:"15.8px",color:"#222",background:"transparent"},
  x:{type:"linear",domain:[2.298,6.6]},y:{type:"log",domain:[0.697,1983]},
  marks:[
    Plot.rect(magRows,{x1:"lo",x2:"hi",y1:()=>0.697,y2:"n",fill:"#008080",stroke:"#1c2c2c",strokeWidth:1}),
    Plot.frame({stroke:"#333",strokeWidth:1.4}),
    Plot.ruleY([1983],{x1:()=>2.298,x2:()=>2.435,stroke:"#000",strokeWidth:1.6}),
    ...logAxes(),
    Plot.axisX(magTicks,{anchor:"bottom",tickSize:2,tickPadding:2,fontSize:15,tickFormat:d3.format(".1f"),label:"Magnitude",labelAnchor:"center",labelArrow:"none",labelOffset:32}),
    Plot.text(["Events"],{frameAnchor:"left",dx:-38,rotate:-90,fontSize:15,fill:"#111"})
  ]
});
histB.style.left="700px";histB.style.top="0px";page.append(histB);

const depthRows=depthCounts.map((n,i)=>({lo:depthEdges[i],hi:depthEdges[i+1],n,mid:Math.sqrt(depthEdges[i]*depthEdges[i+1])}));
const histC=Plot.plot({
  width:692,height:325,marginLeft:69.7,marginRight:14,marginTop:29,marginBottom:60,
  style:{fontFamily:F,fontSize:"15.8px",color:"#222",background:"transparent"},
  x:{type:"log",domain:[0.9,683]},y:{type:"log",domain:[0.714,1990]},color:colorScale,
  marks:[
    Plot.rect(depthRows,{x1:"lo",x2:"hi",y1:()=>0.714,y2:"n",fill:"mid",stroke:"#1a1a1a",strokeWidth:1}),
    Plot.frame({stroke:"#222",strokeWidth:1.4}),
    ...logAxes(),
    Plot.axisX([1,10,100],{anchor:"bottom",tickSize:2,tickPadding:9,dx:-3.5,fontSize:15,tickFormat:()=>"10",label:"Ipocenter depth (km)",labelAnchor:"center",labelArrow:"none",labelOffset:38}),
    Plot.axisX([1,10,100],{anchor:"bottom",label:null,tickSize:0,tickPadding:0,dx:9,fontSize:11,tickFormat:d=>String(Math.round(Math.log10(d)))}),
    Plot.axisX(minorX,{anchor:"bottom",label:null,tickSize:2,tickFormat:noLabel,stroke:"#666"}),
    Plot.text(["Events"],{frameAnchor:"left",dx:-38,rotate:-90,fontSize:15,fill:"#111"})
  ]
});
histC.style.left="700px";histC.style.top="290px";page.append(histC);

const legend=Plot.plot({
  width:100,height:130,marginLeft:28,marginRight:32.5,marginTop:32.3,marginBottom:9.3,
  style:{fontFamily:F,fontSize:"15px",color:"#222",background:"transparent"},
  x:{type:"linear",domain:[0,1],axis:null},y:{type:"point",domain:legendMags,axis:null,padding:0},r:rScale,
  marks:[
    Plot.dot(legendMags,{x:()=>0,y:d=>d,r:d=>d,symbol:"star",fill:"black",stroke:"none"}),
    Plot.text(legendMags,{x:()=>1,y:d=>d,text:d=>d3.format(".1f")(d),dy:-1,fontSize:15,fill:"#111"}),
    Plot.text(["Magnitude:"],{x:()=>0.43,y:()=>2.5,dy:-23,fontSize:15.4,fill:"#111"})
  ]
});
legend.style.left="1280px";legend.style.top="40px";page.append(legend);

[["(a)",8,8],["(b)",693,8],["(c)",693,303]].forEach(([t,x,y])=>{const d=document.createElement("div");d.className="tag";d.textContent=t;d.style.left=x+"px";d.style.top=y+"px";page.append(d);});
</script></body></html>
